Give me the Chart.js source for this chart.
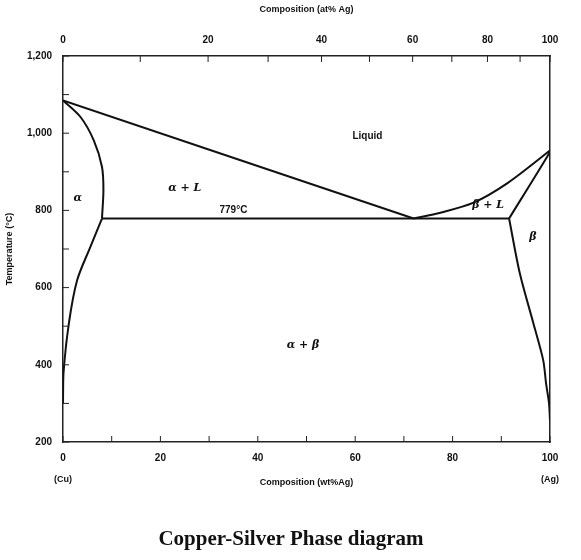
<!DOCTYPE html>
<html>
<head>
<meta charset="utf-8">
<script src="https://cdn.jsdelivr.net/npm/chart.js@4"></script>
<style>
  body { margin:0; background:#fff; }
  #wrap { width:581px; height:560px; position:relative; }
</style>
</head>
<body>
<div id="wrap"><canvas id="grafico" width="581" height="560"></canvas></div>
<script>
// === Dados (wt% Ag, °C) ===
var liquidusEsq = [[0,1085],[72,779]];
var liquidusDir = [[72,779],[77.5,794],[84.3,820],[91.2,870],[100,955]];
var solidusAlfa = [[0,1085],[3.6,1042],[6.3,982],[8.0,913],[8.3,852],[8.0,779]];
var solvusAlfa = [[8.0,779],[5.6,705],[2.9,619],[1.2,507],[0.1,378],[0,300]];
var eutetica = [[8.0,779],[91.6,779]];
var solidusBeta = [[91.6,779],[99.6,943],[100,955]];
var solvusBeta = [[91.6,779],[93.8,637],[96.6,507],[98.6,412],[99.2,351],[99.8,300],[100,255]];

var atTicks = [0,20,40,60,80,100];
var atMinor = [10,30,50,70,90];
var wtTicks = [0,20,40,60,80,100];
var tempTicks = [200,400,600,800,1000,1200];

var rotulos = [
  {t:'Liquid', x:62.5, y:992, it:false},
  {t:'\u03b1 + L', x:25, y:857, it:true},
  {t:'779\u00b0C', x:35, y:800, it:false},
  {t:'\u03b1', x:3, y:832, it:true},
  {t:'\u03b2 + L', x:87.3, y:814, it:true},
  {t:'\u03b2', x:96.5, y:730, it:true},
  {t:'\u03b1 + \u03b2', x:49.3, y:452, it:true}
];

// at% -> wt%
function atParaWt(a) {
  if (a <= 0) return 0;
  if (a >= 100) return 100;
  var ag = a * 107.87, cu = (100 - a) * 63.55;
  return 100 * ag / (ag + cu);
}

function serie(pts) {
  return {
    data: pts.map(function(p){ return {x:p[0], y:p[1]}; }),
    showLine:true, borderColor:'#111', borderWidth:2, pointRadius:0, fill:false, tension:0.3
  };
}

var fonteEixo = { family:'Arial', size:10, weight:'bold' };

var pluginExtras = {
  id:'extras',
  afterDraw: function(chart) {
    var ctx = chart.ctx, sx = chart.scales.x, sy = chart.scales.y, st = chart.scales.xTop;
    var a = chart.chartArea;
    ctx.save();
    ctx.strokeStyle = '#222'; ctx.lineWidth = 1;
    ctx.beginPath();
    // ticks internos
    for (var v = 0; v <= 100; v += 10) {
      var px = sx.getPixelForValue(v);
      ctx.moveTo(px, a.bottom); ctx.lineTo(px, a.bottom - 6);
    }
    for (var t = 200; t <= 1200; t += 100) {
      var py = sy.getPixelForValue(t);
      ctx.moveTo(a.left, py); ctx.lineTo(a.left + 6, py);
    }
    atTicks.concat(atMinor).forEach(function(at) {
      var px = st.getPixelForValue(atParaWt(at));
      ctx.moveTo(px, a.top); ctx.lineTo(px, a.top + 6);
    });
    ctx.stroke();
    // rótulos das regiões
    ctx.fillStyle = '#111';
    ctx.textAlign = 'center'; ctx.textBaseline = 'middle';
    rotulos.forEach(function(r) {
      ctx.font = (r.it ? 'italic bold 11px "DejaVu Serif"' : 'bold 10px Arial');
      ctx.fillText(r.t, sx.getPixelForValue(r.x), sy.getPixelForValue(r.y));
    });
    ctx.font = 'bold 9px Arial';
    ctx.fillText('(Cu)', sx.getPixelForValue(0), 480);
    ctx.fillText('(Ag)', sx.getPixelForValue(100), 480);
    ctx.font = 'bold 21px "Liberation Serif"';
    ctx.fillText('Copper-Silver Phase diagram', 291, 540);
    ctx.restore();
  }
};

new Chart(document.getElementById('grafico'), {
  type:'scatter',
  data:{ datasets:[serie(liquidusEsq), serie(liquidusDir), serie(solidusAlfa), serie(solvusAlfa),
                   serie(eutetica), serie(solidusBeta), serie(solvusBeta)] },
  options:{
    responsive:false, animation:false, devicePixelRatio:1,
    layout:{ padding:{ left:0, right:31, top:0, bottom:68 } },
    plugins:{ legend:{display:false}, tooltip:{enabled:false} },
    scales:{
      x:{
        type:'linear', min:0, max:100, position:'bottom',
        afterBuildTicks: function(s){ s.ticks = wtTicks.map(function(v){ return {value:v}; }); },
        ticks:{ color:'#111', font:fonteEixo, padding:2, maxRotation:0 },
        grid:{ display:false }, border:{ color:'#222', width:1.5 },
        title:{ display:true, text:'Composition (wt%Ag)', color:'#111', font:{family:'Arial',size:9,weight:'bold'}, padding:{top:8} },
        afterFit: function(s){ s.height = 50; }
      },
      xTop:{
        type:'linear', min:0, max:100, position:'top',
        afterBuildTicks: function(s){ s.ticks = atTicks.map(function(a){ return {value:atParaWt(a)}; }); },
        ticks:{ color:'#111', font:fonteEixo, padding:2, maxRotation:0, autoSkip:false,
          callback: function(v, i){ return atTicks[i]; } },
        grid:{ display:false }, border:{ color:'#222', width:1.5 },
        title:{ display:true, text:'Composition (at% Ag)', color:'#111', font:{family:'Arial',size:9,weight:'bold'}, padding:{bottom:12} },
        afterFit: function(s){ s.height = 56; }
      },
      y:{
        type:'linear', min:200, max:1200,
        afterBuildTicks: function(s){ s.ticks = tempTicks.map(function(v){ return {value:v}; }); },
        ticks:{ color:'#111', font:fonteEixo, padding:3 },
        grid:{ display:false }, border:{ color:'#222', width:1.5 },
        title:{ display:true, text:'Temperature (\u00b0C)', color:'#111', font:{family:'Arial',size:9,weight:'bold'}, padding:{bottom:2} },
        afterFit: function(s){ s.width = 63; }
      },
      yRight:{ position:'right', display:true, min:200, max:1200, ticks:{display:false}, grid:{display:false},
        border:{ color:'#222', width:1.5 }, afterFit: function(s){ s.width = 0; } }
    }
  },
  plugins:[pluginExtras]
});
</script>
</body>
</html>
